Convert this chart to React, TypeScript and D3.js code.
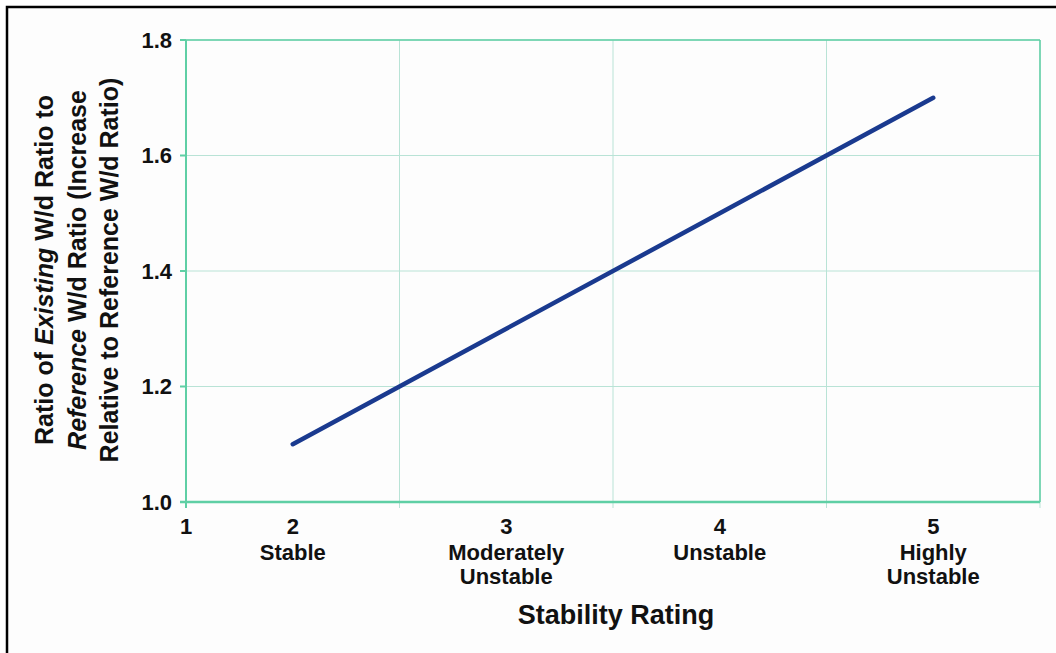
import React from "react";
import * as d3 from "d3";

const ratings = [2, 3, 4, 5];
const ratioValues = [1.1, 1.3, 1.5, 1.7];
const yTicks = [1.0, 1.2, 1.4, 1.6, 1.8];
const xGrid = [1.5, 2.5, 3.5, 4.5, 5.5];
const xTickLabels: { v: number; lines: string[] }[] = [
  { v: 1.5, lines: ["1"] },
  { v: 2, lines: ["2", "Stable"] },
  { v: 3, lines: ["3", "Moderately", "Unstable"] },
  { v: 4, lines: ["4", "Unstable"] },
  { v: 5, lines: ["5", "Highly", "Unstable"] },
];

export default function App() {
  const W = 1056, H = 653;
  const left = 186, right = 1040, top = 40, bottom = 502;
  const x = d3.scaleLinear().domain([1.5, 5.5]).range([left, right]);
  const y = d3.scaleLinear().domain([1.0, 1.8]).range([bottom, top]);
  const line = d3.line<number>().x((_, i) => x(ratings[i])).y((d) => y(d));
  const font = "'Liberation Sans', Arial, Helvetica, sans-serif";
  const axisCol = "#5fcfa5";
  const gridCol = "#b9e3d6";
  return (
    <svg width={W} height={H} style={{ position: "absolute", left: 0, top: 0 }} fontFamily={font}>
      <rect x={0} y={0} width={W} height={H} fill="#ffffff" />
      <rect x={7} y={7} width={W + 20} height={H + 20} fill="#fdfdfd" stroke="#000" strokeWidth={2.5} />
      {yTicks.map((t) => (
        <line key={"gy" + t} x1={left} x2={right} y1={y(t)} y2={y(t)} stroke={gridCol} strokeWidth={1} />
      ))}
      {xGrid.map((t) => (
        <line key={"gx" + t} x1={x(t)} x2={x(t)} y1={top} y2={bottom + 6} stroke={gridCol} strokeWidth={1} />
      ))}
      <line x1={right} x2={right} y1={top} y2={bottom} stroke={axisCol} strokeWidth={1.5} />
      <line x1={left} x2={right} y1={top} y2={top} stroke={axisCol} strokeWidth={1.5} />
      <line x1={left} x2={left} y1={top} y2={bottom + 6} stroke={axisCol} strokeWidth={2} />
      <line x1={left - 6} x2={right} y1={bottom} y2={bottom} stroke={axisCol} strokeWidth={2.5} />
      {yTicks.map((t) => (
        <g key={"yt" + t}>
          <line x1={left - 6} x2={left} y1={y(t)} y2={y(t)} stroke={axisCol} strokeWidth={2} />
          <text x={172} y={y(t)} dy="0.36em" textAnchor="end" fontSize={22} fontWeight="bold" fill="#111">
            {t.toFixed(1)}
          </text>
        </g>
      ))}
      {xTickLabels.map((tl) => (
        <text key={"xt" + tl.v} x={x(tl.v)} y={534} textAnchor="middle" fontSize={22} fontWeight="bold" fill="#111">
          {tl.lines.map((l, i) => (
            <tspan key={i} x={x(tl.v)} dy={i === 0 ? 0 : i === 1 ? 26 : 24}>
              {l}
            </tspan>
          ))}
        </text>
      ))}
      <text x={616} y={624} textAnchor="middle" fontSize={27} fontWeight="bold" fill="#111">
        Stability Rating
      </text>
      <g transform="translate(0,270) rotate(-90)">
        <text x={0} y={53} textAnchor="middle" fontSize={25} fontWeight="bold" fill="#111">
          Ratio of <tspan fontStyle="italic">Existing</tspan> W/d Ratio to
        </text>
        <text x={0} y={86} textAnchor="middle" fontSize={25} fontWeight="bold" fill="#111">
          <tspan fontStyle="italic">Reference</tspan> W/d Ratio (Increase
        </text>
        <text x={0} y={118} textAnchor="middle" fontSize={25} fontWeight="bold" fill="#111">
          Relative to Reference W/d Ratio)
        </text>
      </g>
      <path d={line(ratioValues) || ""} fill="none" stroke="#1a3a8f" strokeWidth={4.5} strokeLinecap="round" />
    </svg>
  );
}
